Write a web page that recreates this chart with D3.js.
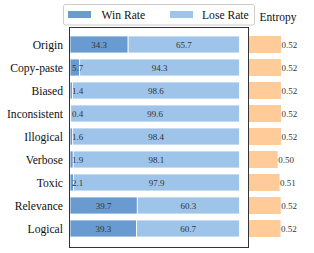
<!DOCTYPE html>
<html>
<head>
<meta charset="utf-8">
<script src="https://cdn.jsdelivr.net/npm/d3@7"></script>
<style>
  body { margin: 0; background: #fff; }
  svg { display: block; font-family: "Liberation Serif", "DejaVu Serif", serif; }
</style>
</head>
<body>
<svg id="chart" width="314" height="253"></svg>
<script>
// data
var categories = ['Origin', 'Copy-paste', 'Biased', 'Inconsistent', 'Illogical', 'Verbose', 'Toxic', 'Relevance', 'Logical'];
var winRate  = [34.3, 5.7, 1.4, 0.4, 1.6, 1.9, 2.1, 39.7, 39.3];
var loseRate = [65.7, 94.3, 98.6, 99.6, 98.4, 98.1, 97.9, 60.3, 60.7];
var entropy  = [0.523, 0.523, 0.523, 0.523, 0.523, 0.497, 0.512, 0.521, 0.520];
var seriesNames = ['Win Rate', 'Lose Rate'];

var colWin = '#6a9bd0', colLose = '#9fc4ea', colEnt = '#ffcc99';

var svg = d3.select('#chart');

var box = {left: 69.5, right: 248.5, top: 27.5, bottom: 247.5};

var y = d3.scaleBand().domain(categories).range([33, 240]).paddingInner(0.26).paddingOuter(0.13);
var x = d3.scaleLinear().domain([0, 100]).range([70, 239.5]);
var xe = d3.scaleLinear().domain([0.27, 0.523]).range([249, 281]);

var rows = categories.map(function(c, i) {
  return {cat: c, win: winRate[i], lose: loseRate[i], ent: entropy[i]};
});

// stacked bars
var g = svg.append('g');
g.selectAll('rect.win').data(rows).enter().append('rect')
  .attr('x', function(d) { return x(0); })
  .attr('y', function(d) { return y(d.cat); })
  .attr('width', function(d) { return x(d.win) - x(0); })
  .attr('height', y.bandwidth())
  .attr('fill', colWin)
  .attr('stroke', '#fff').attr('stroke-width', 0.8);

g.selectAll('rect.lose').data(rows).enter().append('rect')
  .attr('x', function(d) { return x(d.win); })
  .attr('y', function(d) { return y(d.cat); })
  .attr('width', function(d) { return x(d.win + d.lose) - x(d.win); })
  .attr('height', y.bandwidth())
  .attr('fill', colLose)
  .attr('stroke', '#fff').attr('stroke-width', 0.8);

// value labels
g.selectAll('text.wv').data(rows).enter().append('text')
  .attr('x', function(d) { return d.win < 10 ? x(0) + 2 : (x(0) + x(d.win)) / 2; })
  .attr('y', function(d) { return y(d.cat) + y.bandwidth() / 2 + 3; })
  .attr('text-anchor', function(d) { return d.win < 10 ? 'start' : 'middle'; })
  .attr('font-size', 9).attr('fill', '#333')
  .text(function(d) { return d.win.toFixed(1); });

g.selectAll('text.lv').data(rows).enter().append('text')
  .attr('x', function(d) { return (x(d.win) + x(d.win + d.lose)) / 2; })
  .attr('y', function(d) { return y(d.cat) + y.bandwidth() / 2 + 3; })
  .attr('text-anchor', 'middle')
  .attr('font-size', 9).attr('fill', '#333')
  .text(function(d) { return d.lose.toFixed(1); });

// category labels
g.selectAll('text.cat').data(rows).enter().append('text')
  .attr('x', 63)
  .attr('y', function(d) { return y(d.cat) + y.bandwidth() / 2 + 4; })
  .attr('text-anchor', 'end')
  .attr('font-size', 11.6).attr('fill', '#111')
  .text(function(d) { return d.cat; });

// axes frame
svg.append('rect')
  .attr('x', box.left).attr('y', box.top)
  .attr('width', box.right - box.left).attr('height', box.bottom - box.top)
  .attr('fill', 'none').attr('stroke', '#333').attr('stroke-width', 1);

// entropy bars
g.selectAll('rect.ent').data(rows).enter().append('rect')
  .attr('x', xe.range()[0])
  .attr('y', function(d) { return y(d.cat); })
  .attr('width', function(d) { return xe(d.ent) - xe.range()[0]; })
  .attr('height', y.bandwidth())
  .attr('fill', colEnt);

g.selectAll('text.ev').data(rows).enter().append('text')
  .attr('x', function(d) { return xe(d.ent) + 0.5; })
  .attr('y', function(d) { return y(d.cat) + y.bandwidth() / 2 + 3; })
  .attr('font-size', 9).attr('fill', '#333')
  .text(function(d) { return d.ent.toFixed(2); });

svg.append('text')
  .attr('x', 259.5).attr('y', 21)
  .attr('font-size', 11.5).attr('fill', '#111')
  .text('Entropy');

// legend
var lg = svg.append('g');
lg.append('rect')
  .attr('x', 63.5).attr('y', 4.5).attr('width', 191).attr('height', 20.5)
  .attr('rx', 2).attr('fill', '#fff').attr('fill-opacity', 0.9)
  .attr('stroke', '#ccc').attr('stroke-width', 1);
var items = lg.selectAll('g.item').data(seriesNames).enter().append('g')
  .attr('transform', function(d, i) { return 'translate(' + (i === 0 ? 68 : 170) + ',0)'; });
items.append('rect')
  .attr('x', 0).attr('y', 11).attr('width', 23).attr('height', 7)
  .attr('fill', function(d, i) { return i === 0 ? colWin : colLose; });
items.append('text')
  .attr('x', function(d, i) { return i === 0 ? 33.5 : 32; }).attr('y', 18.5)
  .attr('font-size', 11.6).attr('fill', '#111')
  .text(function(d) { return d; });
</script>
</body>
</html>
